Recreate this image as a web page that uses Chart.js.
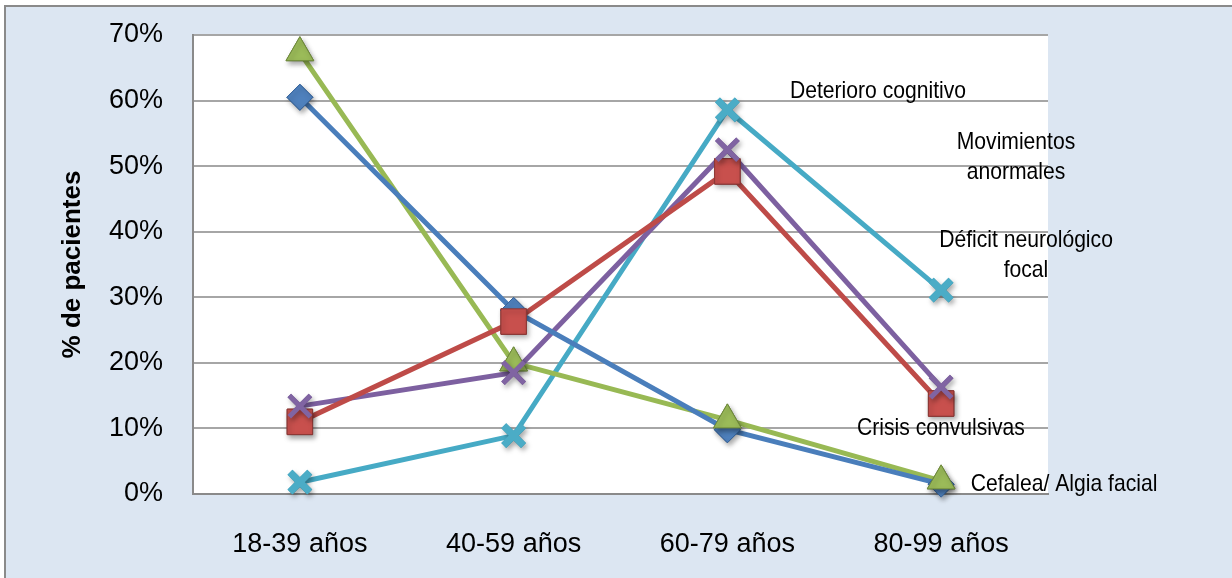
<!DOCTYPE html>
<html>
<head>
<meta charset="utf-8">
<script src="https://cdn.jsdelivr.net/npm/chart.js@4.4.0/dist/chart.umd.min.js"></script>
<style>
  html, body { margin: 0; padding: 0; background: #fff; }
  #frame {
    position: absolute; left: 4px; top: 5px; width: 1228px; height: 573px;
    background: #dce6f2; border-left: 2px solid #8a8a8a; border-top: 2px solid #8a8a8a;
  }
  #chart { position: absolute; left: 0; top: 0; }
</style>
</head>
<body>
<div id="frame"></div>
<canvas id="chart" width="1232" height="578"></canvas>
<script>
// age groups on the x axis
const ageGroups = ["18-39 años", "40-59 años", "60-79 años", "80-99 años"];

// % of patients per group
const cefalea     = [60.5, 28.0, 9.8, 1.5];
const crisis      = [11.0, 26.3, 49.2, 13.8];
const deficit     = [67.3, 20.0, 11.3, 2.0];
const movimientos = [13.4, 18.5, 52.5, 16.3];
const deterioro   = [1.8, 8.9, 58.6, 31.1];

const yTickLabels = ["0%", "10%", "20%", "30%", "40%", "50%", "60%", "70%"];

// free-floating series captions (centre x, centre y, lines)
const captions = [
  { x: 878,  y: 91,  lines: ["Deterioro cognitivo"] },
  { x: 1016, y: 142, lines: ["Movimientos", "anormales"] },
  { x: 1026, y: 240, lines: ["Déficit neurológico", "focal"] },
  { x: 941,  y: 428, lines: ["Crisis convulsivas"] },
  { x: 1064, y: 484, lines: ["Cefalea/ Algia facial"] }
];

const FONT = "'Liberation Sans', Arial, sans-serif";

const plotBackground = {
  id: "plotBackground",
  beforeDraw(chart) {
    const { ctx, chartArea: a } = chart;
    ctx.save();
    ctx.fillStyle = "#ffffff";
    ctx.fillRect(a.left, a.top, a.right - a.left, a.bottom - a.top);
    ctx.restore();
  }
};

// markers again, this time with a soft drop shadow
const markerShadow = {
  id: "markerShadow",
  afterDatasetsDraw(chart) {
    const ctx = chart.ctx;
    ctx.save();
    ctx.shadowColor = "rgba(0,0,0,0.35)";
    ctx.shadowBlur = 5;
    ctx.shadowOffsetX = 2;
    ctx.shadowOffsetY = 3;
    chart.data.datasets.forEach((ds, i) => {
      chart.getDatasetMeta(i).data.forEach(pt => pt.draw(ctx, chart.chartArea));
    });
    ctx.restore();
  }
};

const captionText = {
  id: "captionText",
  afterDatasetsDraw(chart) {
    const ctx = chart.ctx;
    ctx.save();
    ctx.fillStyle = "#000";
    ctx.font = "24px " + FONT;
    ctx.textAlign = "center";
    ctx.textBaseline = "middle";
    captions.forEach(c => {
      c.lines.forEach((line, i) => {
        ctx.save();
        ctx.translate(c.x, c.y + i * 30);
        ctx.scale(0.88, 1);
        ctx.fillText(line, 0, 0);
        ctx.restore();
      });
    });
    ctx.restore();
  }
};

function series(label, data, line, fill, edge, style, radius, edgeWidth) {
  return {
    label, data,
    borderColor: line,
    borderWidth: 5,
    pointStyle: style,
    pointRadius: radius,
    pointHoverRadius: radius,
    pointBackgroundColor: fill,
    pointBorderColor: edge,
    pointBorderWidth: edgeWidth,
    tension: 0
  };
}

new Chart(document.getElementById("chart"), {
  type: "line",
  data: {
    labels: ageGroups,
    datasets: [
      series("Cefalea/ Algia facial", cefalea, "#4a7ebb", "#4f81bd", "#38659c", "rectRot", 13, 1),
      series("Crisis convulsivas", crisis, "#be4b48", "#c8504d", "#8c3836", "rect", 18, 1),
      series("Déficit neurológico focal", deficit, "#98b954", "#9bbb59", "#6f8a3c", "triangle", 16, 1),
      series("Movimientos anormales", movimientos, "#7d60a0", "#8064a2", "#8064a2", "crossRot", 15, 5),
      series("Deterioro cognitivo", deterioro, "#46aac5", "#4bacc6", "#4bacc6", "crossRot", 14, 7)
    ]
  },
  options: {
    responsive: false,
    animation: false,
    layout: { padding: { left: 0, top: 35, right: 184, bottom: 0 } },
    plugins: { legend: { display: false }, tooltip: { enabled: false } },
    scales: {
      x: {
        offset: true,
        grid: { display: false, drawTicks: false },
        border: { display: true, color: "#8a8a8a", width: 2 },
        ticks: { color: "#000", padding: 34, font: { family: FONT, size: 27 } },
        afterFit(scale) { scale.height = 84; }
      },
      y: {
        min: 0, max: 70,
        grid: { color: "#a6a6a6", lineWidth: 2, drawTicks: false },
        border: { display: true, color: "#8a8a8a", width: 2 },
        ticks: {
          stepSize: 10, color: "#000", padding: 30,
          font: { family: FONT, size: 27 },
          callback: (v) => yTickLabels[v / 10]
        },
        title: {
          display: true, text: "% de pacientes", color: "#000",
          font: { family: FONT, size: 26, weight: "bold" },
          padding: { top: 57, bottom: 0 }
        },
        afterFit(scale) {
          scale.width = 193;
          scale.paddingTop = 0;
        }
      }
    }
  },
  plugins: [plotBackground, markerShadow, captionText]
});
</script>
</body>
</html>
